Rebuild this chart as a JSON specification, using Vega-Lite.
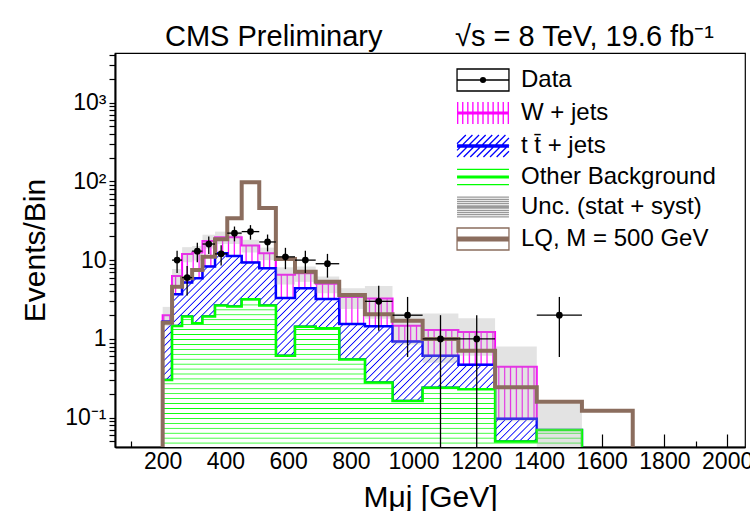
{
"$schema": "https://vega.github.io/schema/vega-lite/v6.json",
"width": 630, "height": 394,
"autosize": {"type": "none"},
"padding": {"left": 115, "top": 53, "right": 5, "bottom": 64},
"background": "white",
"config": {
  "font": "Liberation Sans",
  "view": {"stroke": "#000", "strokeWidth": 1.2},
  "axis": {"grid": false, "domainColor": "#000", "domainWidth": 2, "tickColor": "#000", "tickWidth": 1.2, "labelColor": "#000", "titleColor": "#000", "labelFont": "Liberation Sans", "titleFont": "Liberation Sans", "labelFontSize": 23, "titleFontSize": 30, "titleFontWeight": "normal", "labelOverlap": false, "labelFlush": false, "zindex": 1},
  "axisX": {"title": "M\u03bcj [GeV]", "values": [50,100,150,200,250,300,350,400,450,500,550,600,650,700,750,800,850,900,950,1000,1050,1100,1150,1200,1250,1300,1350,1400,1450,1500,1550,1600,1650,1700,1750,1800,1850,1900,1950,2000,2050], "labelExpr": "datum.value % 200 == 0 ? toString(datum.value) : ''", "tickSize": {"condition": {"test": "datum.value % 200 == 0", "value": -13}, "value": -6}, "labelPadding": 16, "titlePadding": 2}
},
"title": {"text": "CMS Preliminary\u00a0\u00a0\u00a0\u00a0\u00a0\u00a0\u00a0\u00a0\u00a0\u221as = 8 TeV, 19.6 fb\u207b\u00b9", "anchor": "start", "frame": "group", "dx": 50, "dy": 39, "offset": 8, "baseline": "alphabetic", "fontSize": 29, "fontWeight": "normal", "font": "Liberation Sans", "color": "#000"},
"datasets": {
  "edges": [
    {"m":200,"other":0.3,"ttbar_top":1.66,"wjets_top":2.0,"lq":1.6},
    {"m":230,"other":1.46,"ttbar_top":3.7,"wjets_top":6.3,"lq":4.6},
    {"m":262,"other":1.92,"ttbar_top":5.2,"wjets_top":12,"lq":5.9},
    {"m":294,"other":1.58,"ttbar_top":5.9,"wjets_top":12.5,"lq":7.5},
    {"m":327,"other":1.92,"ttbar_top":8.3,"wjets_top":17.5,"lq":11},
    {"m":367,"other":2.65,"ttbar_top":12.2,"wjets_top":19.5,"lq":18.4},
    {"m":406,"other":2.57,"ttbar_top":11.3,"wjets_top":19.5,"lq":34},
    {"m":452,"other":3.19,"ttbar_top":9.3,"wjets_top":15.3,"lq":97},
    {"m":508,"other":2.65,"ttbar_top":7.9,"wjets_top":12.2,"lq":46},
    {"m":561,"other":0.61,"ttbar_top":3.3,"wjets_top":6.5,"lq":10.3},
    {"m":622,"other":1.43,"ttbar_top":4.4,"wjets_top":6.8,"lq":7.1},
    {"m":688,"other":1.37,"ttbar_top":3.2,"wjets_top":5.0,"lq":5.3},
    {"m":763,"other":0.55,"ttbar_top":1.55,"wjets_top":3.4,"lq":3.6},
    {"m":845,"other":0.28,"ttbar_top":1.45,"wjets_top":3.25,"lq":2.05},
    {"m":933,"other":0.163,"ttbar_top":0.93,"wjets_top":1.47,"lq":1.7},
    {"m":1029,"other":0.24,"ttbar_top":0.61,"wjets_top":1.3,"lq":1.0},
    {"m":1143,"other":0.23,"ttbar_top":0.47,"wjets_top":1.22,"lq":0.71},
    {"m":1260,"other":0.05,"ttbar_top":0.097,"wjets_top":0.445,"lq":0.244},
    {"m":1393,"other":0.07,"ttbar_top":0.07,"wjets_top":0.07,"lq":0.16},
    {"m":1537,"other":0.01,"ttbar_top":0.01,"wjets_top":0.01,"lq":0.123},
    {"m":1699,"other":0.01,"ttbar_top":0.01,"wjets_top":0.01,"lq":0.123}
  ],
  "bins": [
    {"lo":200,"hi":230,"mid":215,"n":null,"nlo":null,"nhi":null,"ulo":1.45,"uhi":2.55},
    {"lo":230,"hi":262,"mid":246,"n":10,"nlo":6.84,"nhi":13.16,"ulo":4.9,"uhi":7.7},
    {"lo":262,"hi":294,"mid":278,"n":6,"nlo":3.55,"nhi":8.45,"ulo":9.4,"uhi":14.6},
    {"lo":294,"hi":327,"mid":310.5,"n":13,"nlo":9.39,"nhi":16.61,"ulo":9.9,"uhi":15.1},
    {"lo":327,"hi":367,"mid":347,"n":16,"nlo":12,"nhi":20,"ulo":14.0,"uhi":21.0},
    {"lo":367,"hi":406,"mid":386.5,"n":12,"nlo":8.54,"nhi":15.46,"ulo":16.0,"uhi":23.0},
    {"lo":406,"hi":452,"mid":429,"n":22,"nlo":17.31,"nhi":26.69,"ulo":16.0,"uhi":23.0},
    {"lo":452,"hi":508,"mid":480,"n":23,"nlo":18.2,"nhi":27.8,"ulo":12.5,"uhi":18.1},
    {"lo":508,"hi":561,"mid":534.5,"n":17,"nlo":12.88,"nhi":21.12,"ulo":10.0,"uhi":14.4},
    {"lo":561,"hi":622,"mid":591.5,"n":11,"nlo":7.68,"nhi":14.32,"ulo":4.9,"uhi":8.1},
    {"lo":622,"hi":688,"mid":655,"n":10,"nlo":6.84,"nhi":13.16,"ulo":5.3,"uhi":8.3},
    {"lo":688,"hi":763,"mid":725.5,"n":9,"nlo":6,"nhi":12,"ulo":3.8,"uhi":6.2},
    {"lo":763,"hi":845,"mid":804,"n":null,"nlo":null,"nhi":null,"ulo":2.4,"uhi":4.4},
    {"lo":845,"hi":933,"mid":889,"n":3,"nlo":1.27,"nhi":4.73,"ulo":1.8,"uhi":4.7},
    {"lo":933,"hi":1029,"mid":981,"n":2,"nlo":0.59,"nhi":3.41,"ulo":0.85,"uhi":2.1},
    {"lo":1029,"hi":1143,"mid":1086,"n":1,"nlo":0.01,"nhi":2,"ulo":0.5,"uhi":2.1},
    {"lo":1143,"hi":1260,"mid":1201.5,"n":1,"nlo":0.01,"nhi":2,"ulo":0.61,"uhi":1.83},
    {"lo":1260,"hi":1393,"mid":1326.5,"n":null,"nlo":null,"nhi":null,"ulo":0.09,"uhi":0.8},
    {"lo":1393,"hi":1537,"mid":1465,"n":2,"nlo":0.59,"nhi":3.41,"ulo":0.01,"uhi":0.15}
  ],
  "entries": [
    {"s":"Data"},{"s":"W + jets"},{"s":"t t\u0304 + jets"},{"s":"Other Background"},{"s":"Unc. (stat + syst)"},{"s":"LQ, M = 500 GeV"}
  ]
},
"layer": [
  {
    "data": {"name": "edges"},
    "mark": {"type": "area", "interpolate": "step-after", "clip": true, "stroke": "#f0f", "strokeWidth": 2,
      "fill": {"gradient": "linear", "x1": 0, "y1": 0, "x2": 1, "y2": 0, "stops": [
{"offset":0,"color":"#fff"},{"offset":0.0025,"color":"#f0f"},{"offset":0.005,"color":"#fff"},{"offset":0.0125,"color":"#fff"},{"offset":0.015,"color":"#f0f"},{"offset":0.0175,"color":"#fff"},{"offset":0.025,"color":"#fff"},{"offset":0.0275,"color":"#f0f"},{"offset":0.03,"color":"#fff"},{"offset":0.0375,"color":"#fff"},{"offset":0.04,"color":"#f0f"},{"offset":0.0425,"color":"#fff"},{"offset":0.05,"color":"#fff"},{"offset":0.0525,"color":"#f0f"},{"offset":0.055,"color":"#fff"},{"offset":0.0625,"color":"#fff"},{"offset":0.065,"color":"#f0f"},{"offset":0.0675,"color":"#fff"},{"offset":0.075,"color":"#fff"},{"offset":0.0775,"color":"#f0f"},{"offset":0.08,"color":"#fff"},{"offset":0.0875,"color":"#fff"},{"offset":0.09,"color":"#f0f"},{"offset":0.0925,"color":"#fff"},
{"offset":0.1,"color":"#fff"},{"offset":0.1025,"color":"#f0f"},{"offset":0.105,"color":"#fff"},{"offset":0.1125,"color":"#fff"},{"offset":0.115,"color":"#f0f"},{"offset":0.1175,"color":"#fff"},{"offset":0.125,"color":"#fff"},{"offset":0.1275,"color":"#f0f"},{"offset":0.13,"color":"#fff"},{"offset":0.1375,"color":"#fff"},{"offset":0.14,"color":"#f0f"},{"offset":0.1425,"color":"#fff"},{"offset":0.15,"color":"#fff"},{"offset":0.1525,"color":"#f0f"},{"offset":0.155,"color":"#fff"},{"offset":0.1625,"color":"#fff"},{"offset":0.165,"color":"#f0f"},{"offset":0.1675,"color":"#fff"},{"offset":0.175,"color":"#fff"},{"offset":0.1775,"color":"#f0f"},{"offset":0.18,"color":"#fff"},{"offset":0.1875,"color":"#fff"},{"offset":0.19,"color":"#f0f"},{"offset":0.1925,"color":"#fff"},
{"offset":0.2,"color":"#fff"},{"offset":0.2025,"color":"#f0f"},{"offset":0.205,"color":"#fff"},{"offset":0.2125,"color":"#fff"},{"offset":0.215,"color":"#f0f"},{"offset":0.2175,"color":"#fff"},{"offset":0.225,"color":"#fff"},{"offset":0.2275,"color":"#f0f"},{"offset":0.23,"color":"#fff"},{"offset":0.2375,"color":"#fff"},{"offset":0.24,"color":"#f0f"},{"offset":0.2425,"color":"#fff"},{"offset":0.25,"color":"#fff"},{"offset":0.2525,"color":"#f0f"},{"offset":0.255,"color":"#fff"},{"offset":0.2625,"color":"#fff"},{"offset":0.265,"color":"#f0f"},{"offset":0.2675,"color":"#fff"},{"offset":0.275,"color":"#fff"},{"offset":0.2775,"color":"#f0f"},{"offset":0.28,"color":"#fff"},{"offset":0.2875,"color":"#fff"},{"offset":0.29,"color":"#f0f"},{"offset":0.2925,"color":"#fff"},
{"offset":0.3,"color":"#fff"},{"offset":0.3025,"color":"#f0f"},{"offset":0.305,"color":"#fff"},{"offset":0.3125,"color":"#fff"},{"offset":0.315,"color":"#f0f"},{"offset":0.3175,"color":"#fff"},{"offset":0.325,"color":"#fff"},{"offset":0.3275,"color":"#f0f"},{"offset":0.33,"color":"#fff"},{"offset":0.3375,"color":"#fff"},{"offset":0.34,"color":"#f0f"},{"offset":0.3425,"color":"#fff"},{"offset":0.35,"color":"#fff"},{"offset":0.3525,"color":"#f0f"},{"offset":0.355,"color":"#fff"},{"offset":0.3625,"color":"#fff"},{"offset":0.365,"color":"#f0f"},{"offset":0.3675,"color":"#fff"},{"offset":0.375,"color":"#fff"},{"offset":0.3775,"color":"#f0f"},{"offset":0.38,"color":"#fff"},{"offset":0.3875,"color":"#fff"},{"offset":0.39,"color":"#f0f"},{"offset":0.3925,"color":"#fff"},
{"offset":0.4,"color":"#fff"},{"offset":0.4025,"color":"#f0f"},{"offset":0.405,"color":"#fff"},{"offset":0.4125,"color":"#fff"},{"offset":0.415,"color":"#f0f"},{"offset":0.4175,"color":"#fff"},{"offset":0.425,"color":"#fff"},{"offset":0.4275,"color":"#f0f"},{"offset":0.43,"color":"#fff"},{"offset":0.4375,"color":"#fff"},{"offset":0.44,"color":"#f0f"},{"offset":0.4425,"color":"#fff"},{"offset":0.45,"color":"#fff"},{"offset":0.4525,"color":"#f0f"},{"offset":0.455,"color":"#fff"},{"offset":0.4625,"color":"#fff"},{"offset":0.465,"color":"#f0f"},{"offset":0.4675,"color":"#fff"},{"offset":0.475,"color":"#fff"},{"offset":0.4775,"color":"#f0f"},{"offset":0.48,"color":"#fff"},{"offset":0.4875,"color":"#fff"},{"offset":0.49,"color":"#f0f"},{"offset":0.4925,"color":"#fff"},
{"offset":0.5,"color":"#fff"},{"offset":0.5025,"color":"#f0f"},{"offset":0.505,"color":"#fff"},{"offset":0.5125,"color":"#fff"},{"offset":0.515,"color":"#f0f"},{"offset":0.5175,"color":"#fff"},{"offset":0.525,"color":"#fff"},{"offset":0.5275,"color":"#f0f"},{"offset":0.53,"color":"#fff"},{"offset":0.5375,"color":"#fff"},{"offset":0.54,"color":"#f0f"},{"offset":0.5425,"color":"#fff"},{"offset":0.55,"color":"#fff"},{"offset":0.5525,"color":"#f0f"},{"offset":0.555,"color":"#fff"},{"offset":0.5625,"color":"#fff"},{"offset":0.565,"color":"#f0f"},{"offset":0.5675,"color":"#fff"},{"offset":0.575,"color":"#fff"},{"offset":0.5775,"color":"#f0f"},{"offset":0.58,"color":"#fff"},{"offset":0.5875,"color":"#fff"},{"offset":0.59,"color":"#f0f"},{"offset":0.5925,"color":"#fff"},
{"offset":0.6,"color":"#fff"},{"offset":0.6025,"color":"#f0f"},{"offset":0.605,"color":"#fff"},{"offset":0.6125,"color":"#fff"},{"offset":0.615,"color":"#f0f"},{"offset":0.6175,"color":"#fff"},{"offset":0.625,"color":"#fff"},{"offset":0.6275,"color":"#f0f"},{"offset":0.63,"color":"#fff"},{"offset":0.6375,"color":"#fff"},{"offset":0.64,"color":"#f0f"},{"offset":0.6425,"color":"#fff"},{"offset":0.65,"color":"#fff"},{"offset":0.6525,"color":"#f0f"},{"offset":0.655,"color":"#fff"},{"offset":0.6625,"color":"#fff"},{"offset":0.665,"color":"#f0f"},{"offset":0.6675,"color":"#fff"},{"offset":0.675,"color":"#fff"},{"offset":0.6775,"color":"#f0f"},{"offset":0.68,"color":"#fff"},{"offset":0.6875,"color":"#fff"},{"offset":0.69,"color":"#f0f"},{"offset":0.6925,"color":"#fff"},
{"offset":0.7,"color":"#fff"},{"offset":0.7025,"color":"#f0f"},{"offset":0.705,"color":"#fff"},{"offset":0.7125,"color":"#fff"},{"offset":0.715,"color":"#f0f"},{"offset":0.7175,"color":"#fff"},{"offset":0.725,"color":"#fff"},{"offset":0.7275,"color":"#f0f"},{"offset":0.73,"color":"#fff"},{"offset":0.7375,"color":"#fff"},{"offset":0.74,"color":"#f0f"},{"offset":0.7425,"color":"#fff"},{"offset":0.75,"color":"#fff"},{"offset":0.7525,"color":"#f0f"},{"offset":0.755,"color":"#fff"},{"offset":0.7625,"color":"#fff"},{"offset":0.765,"color":"#f0f"},{"offset":0.7675,"color":"#fff"},{"offset":0.775,"color":"#fff"},{"offset":0.7775,"color":"#f0f"},{"offset":0.78,"color":"#fff"},{"offset":0.7875,"color":"#fff"},{"offset":0.79,"color":"#f0f"},{"offset":0.7925,"color":"#fff"},
{"offset":0.8,"color":"#fff"},{"offset":0.8025,"color":"#f0f"},{"offset":0.805,"color":"#fff"},{"offset":0.8125,"color":"#fff"},{"offset":0.815,"color":"#f0f"},{"offset":0.8175,"color":"#fff"},{"offset":0.825,"color":"#fff"},{"offset":0.8275,"color":"#f0f"},{"offset":0.83,"color":"#fff"},{"offset":0.8375,"color":"#fff"},{"offset":0.84,"color":"#f0f"},{"offset":0.8425,"color":"#fff"},{"offset":0.85,"color":"#fff"},{"offset":0.8525,"color":"#f0f"},{"offset":0.855,"color":"#fff"},{"offset":0.8625,"color":"#fff"},{"offset":0.865,"color":"#f0f"},{"offset":0.8675,"color":"#fff"},{"offset":0.875,"color":"#fff"},{"offset":0.8775,"color":"#f0f"},{"offset":0.88,"color":"#fff"},{"offset":0.8875,"color":"#fff"},{"offset":0.89,"color":"#f0f"},{"offset":0.8925,"color":"#fff"},
{"offset":0.9,"color":"#fff"},{"offset":0.9025,"color":"#f0f"},{"offset":0.905,"color":"#fff"},{"offset":0.9125,"color":"#fff"},{"offset":0.915,"color":"#f0f"},{"offset":0.9175,"color":"#fff"},{"offset":0.925,"color":"#fff"},{"offset":0.9275,"color":"#f0f"},{"offset":0.93,"color":"#fff"},{"offset":0.9375,"color":"#fff"},{"offset":0.94,"color":"#f0f"},{"offset":0.9425,"color":"#fff"},{"offset":0.95,"color":"#fff"},{"offset":0.9525,"color":"#f0f"},{"offset":0.955,"color":"#fff"},{"offset":0.9625,"color":"#fff"},{"offset":0.965,"color":"#f0f"},{"offset":0.9675,"color":"#fff"},{"offset":0.975,"color":"#fff"},{"offset":0.9775,"color":"#f0f"},{"offset":0.98,"color":"#fff"},{"offset":0.9875,"color":"#fff"},{"offset":0.99,"color":"#f0f"},{"offset":0.9925,"color":"#fff"}
      ]}},
    "encoding": {
      "x": {"field": "m", "type": "quantitative", "title": "M\u03bcj [GeV]", "scale": {"domain": [48, 2057], "nice": false, "zero": false}},
      "y": {"field": "wjets_top", "type": "quantitative", "scale": {"type": "log", "domain": [0.0425, 4250], "nice": false},
        "axis": {"title": "Events/Bin", "values": [0.05,0.06,0.07,0.08,0.09,0.1,0.2,0.3,0.4,0.5,0.6,0.7,0.8,0.9,1,2,3,4,5,6,7,8,9,10,20,30,40,50,60,70,80,90,100,200,300,400,500,600,700,800,900,1000,2000,3000,4000],
          "labelExpr": "datum.value == 0.1 ? '10\u207b\u00b9' : datum.value == 1 ? '1' : datum.value == 10 ? '10' : datum.value == 100 ? '10\u00b2' : datum.value == 1000 ? '10\u00b3' : ''",
          "tickSize": 6, "labelPadding": 3, "titlePadding": 14,
          "encode": {"ticks": {"update": {"x2": {"signal": "indexof([0.1,1,10,100,1000], datum.value) >= 0 ? 17 : 9"}}}}}},
      "y2": {"field": "ttbar_top"}
    }
  },
  {
    "data": {"name": "edges"},
    "mark": {"type": "area", "interpolate": "step-after", "clip": true, "stroke": "#00f", "strokeWidth": 2.5,
      "fill": {"gradient": "linear", "x1": 0, "y1": 0, "x2": 1.2, "y2": 0.621, "stops": [
{"offset":0,"color":"#fff"},{"offset":0.0017,"color":"#00f"},{"offset":0.0034,"color":"#fff"},{"offset":0.01,"color":"#fff"},{"offset":0.0117,"color":"#00f"},{"offset":0.0134,"color":"#fff"},{"offset":0.02,"color":"#fff"},{"offset":0.0217,"color":"#00f"},{"offset":0.0234,"color":"#fff"},{"offset":0.03,"color":"#fff"},{"offset":0.0317,"color":"#00f"},{"offset":0.0334,"color":"#fff"},{"offset":0.04,"color":"#fff"},{"offset":0.0417,"color":"#00f"},{"offset":0.0434,"color":"#fff"},{"offset":0.05,"color":"#fff"},{"offset":0.0517,"color":"#00f"},{"offset":0.0534,"color":"#fff"},{"offset":0.06,"color":"#fff"},{"offset":0.0617,"color":"#00f"},{"offset":0.0634,"color":"#fff"},{"offset":0.07,"color":"#fff"},{"offset":0.0717,"color":"#00f"},{"offset":0.0734,"color":"#fff"},{"offset":0.08,"color":"#fff"},{"offset":0.0817,"color":"#00f"},{"offset":0.0834,"color":"#fff"},{"offset":0.09,"color":"#fff"},{"offset":0.0917,"color":"#00f"},{"offset":0.0934,"color":"#fff"},
{"offset":0.1,"color":"#fff"},{"offset":0.1017,"color":"#00f"},{"offset":0.1034,"color":"#fff"},{"offset":0.11,"color":"#fff"},{"offset":0.1117,"color":"#00f"},{"offset":0.1134,"color":"#fff"},{"offset":0.12,"color":"#fff"},{"offset":0.1217,"color":"#00f"},{"offset":0.1234,"color":"#fff"},{"offset":0.13,"color":"#fff"},{"offset":0.1317,"color":"#00f"},{"offset":0.1334,"color":"#fff"},{"offset":0.14,"color":"#fff"},{"offset":0.1417,"color":"#00f"},{"offset":0.1434,"color":"#fff"},{"offset":0.15,"color":"#fff"},{"offset":0.1517,"color":"#00f"},{"offset":0.1534,"color":"#fff"},{"offset":0.16,"color":"#fff"},{"offset":0.1617,"color":"#00f"},{"offset":0.1634,"color":"#fff"},{"offset":0.17,"color":"#fff"},{"offset":0.1717,"color":"#00f"},{"offset":0.1734,"color":"#fff"},{"offset":0.18,"color":"#fff"},{"offset":0.1817,"color":"#00f"},{"offset":0.1834,"color":"#fff"},{"offset":0.19,"color":"#fff"},{"offset":0.1917,"color":"#00f"},{"offset":0.1934,"color":"#fff"},
{"offset":0.2,"color":"#fff"},{"offset":0.2017,"color":"#00f"},{"offset":0.2034,"color":"#fff"},{"offset":0.21,"color":"#fff"},{"offset":0.2117,"color":"#00f"},{"offset":0.2134,"color":"#fff"},{"offset":0.22,"color":"#fff"},{"offset":0.2217,"color":"#00f"},{"offset":0.2234,"color":"#fff"},{"offset":0.23,"color":"#fff"},{"offset":0.2317,"color":"#00f"},{"offset":0.2334,"color":"#fff"},{"offset":0.24,"color":"#fff"},{"offset":0.2417,"color":"#00f"},{"offset":0.2434,"color":"#fff"},{"offset":0.25,"color":"#fff"},{"offset":0.2517,"color":"#00f"},{"offset":0.2534,"color":"#fff"},{"offset":0.26,"color":"#fff"},{"offset":0.2617,"color":"#00f"},{"offset":0.2634,"color":"#fff"},{"offset":0.27,"color":"#fff"},{"offset":0.2717,"color":"#00f"},{"offset":0.2734,"color":"#fff"},{"offset":0.28,"color":"#fff"},{"offset":0.2817,"color":"#00f"},{"offset":0.2834,"color":"#fff"},{"offset":0.29,"color":"#fff"},{"offset":0.2917,"color":"#00f"},{"offset":0.2934,"color":"#fff"},
{"offset":0.3,"color":"#fff"},{"offset":0.3017,"color":"#00f"},{"offset":0.3034,"color":"#fff"},{"offset":0.31,"color":"#fff"},{"offset":0.3117,"color":"#00f"},{"offset":0.3134,"color":"#fff"},{"offset":0.32,"color":"#fff"},{"offset":0.3217,"color":"#00f"},{"offset":0.3234,"color":"#fff"},{"offset":0.33,"color":"#fff"},{"offset":0.3317,"color":"#00f"},{"offset":0.3334,"color":"#fff"},{"offset":0.34,"color":"#fff"},{"offset":0.3417,"color":"#00f"},{"offset":0.3434,"color":"#fff"},{"offset":0.35,"color":"#fff"},{"offset":0.3517,"color":"#00f"},{"offset":0.3534,"color":"#fff"},{"offset":0.36,"color":"#fff"},{"offset":0.3617,"color":"#00f"},{"offset":0.3634,"color":"#fff"},{"offset":0.37,"color":"#fff"},{"offset":0.3717,"color":"#00f"},{"offset":0.3734,"color":"#fff"},{"offset":0.38,"color":"#fff"},{"offset":0.3817,"color":"#00f"},{"offset":0.3834,"color":"#fff"},{"offset":0.39,"color":"#fff"},{"offset":0.3917,"color":"#00f"},{"offset":0.3934,"color":"#fff"},
{"offset":0.4,"color":"#fff"},{"offset":0.4017,"color":"#00f"},{"offset":0.4034,"color":"#fff"},{"offset":0.41,"color":"#fff"},{"offset":0.4117,"color":"#00f"},{"offset":0.4134,"color":"#fff"},{"offset":0.42,"color":"#fff"},{"offset":0.4217,"color":"#00f"},{"offset":0.4234,"color":"#fff"},{"offset":0.43,"color":"#fff"},{"offset":0.4317,"color":"#00f"},{"offset":0.4334,"color":"#fff"},{"offset":0.44,"color":"#fff"},{"offset":0.4417,"color":"#00f"},{"offset":0.4434,"color":"#fff"},{"offset":0.45,"color":"#fff"},{"offset":0.4517,"color":"#00f"},{"offset":0.4534,"color":"#fff"},{"offset":0.46,"color":"#fff"},{"offset":0.4617,"color":"#00f"},{"offset":0.4634,"color":"#fff"},{"offset":0.47,"color":"#fff"},{"offset":0.4717,"color":"#00f"},{"offset":0.4734,"color":"#fff"},{"offset":0.48,"color":"#fff"},{"offset":0.4817,"color":"#00f"},{"offset":0.4834,"color":"#fff"},{"offset":0.49,"color":"#fff"},{"offset":0.4917,"color":"#00f"},{"offset":0.4934,"color":"#fff"},
{"offset":0.5,"color":"#fff"},{"offset":0.5017,"color":"#00f"},{"offset":0.5034,"color":"#fff"},{"offset":0.51,"color":"#fff"},{"offset":0.5117,"color":"#00f"},{"offset":0.5134,"color":"#fff"},{"offset":0.52,"color":"#fff"},{"offset":0.5217,"color":"#00f"},{"offset":0.5234,"color":"#fff"},{"offset":0.53,"color":"#fff"},{"offset":0.5317,"color":"#00f"},{"offset":0.5334,"color":"#fff"},{"offset":0.54,"color":"#fff"},{"offset":0.5417,"color":"#00f"},{"offset":0.5434,"color":"#fff"},{"offset":0.55,"color":"#fff"},{"offset":0.5517,"color":"#00f"},{"offset":0.5534,"color":"#fff"},{"offset":0.56,"color":"#fff"},{"offset":0.5617,"color":"#00f"},{"offset":0.5634,"color":"#fff"},{"offset":0.57,"color":"#fff"},{"offset":0.5717,"color":"#00f"},{"offset":0.5734,"color":"#fff"},{"offset":0.58,"color":"#fff"},{"offset":0.5817,"color":"#00f"},{"offset":0.5834,"color":"#fff"},{"offset":0.59,"color":"#fff"},{"offset":0.5917,"color":"#00f"},{"offset":0.5934,"color":"#fff"},
{"offset":0.6,"color":"#fff"},{"offset":0.6017,"color":"#00f"},{"offset":0.6034,"color":"#fff"},{"offset":0.61,"color":"#fff"},{"offset":0.6117,"color":"#00f"},{"offset":0.6134,"color":"#fff"},{"offset":0.62,"color":"#fff"},{"offset":0.6217,"color":"#00f"},{"offset":0.6234,"color":"#fff"},{"offset":0.63,"color":"#fff"},{"offset":0.6317,"color":"#00f"},{"offset":0.6334,"color":"#fff"},{"offset":0.64,"color":"#fff"},{"offset":0.6417,"color":"#00f"},{"offset":0.6434,"color":"#fff"},{"offset":0.65,"color":"#fff"},{"offset":0.6517,"color":"#00f"},{"offset":0.6534,"color":"#fff"},{"offset":0.66,"color":"#fff"},{"offset":0.6617,"color":"#00f"},{"offset":0.6634,"color":"#fff"},{"offset":0.67,"color":"#fff"},{"offset":0.6717,"color":"#00f"},{"offset":0.6734,"color":"#fff"},{"offset":0.68,"color":"#fff"},{"offset":0.6817,"color":"#00f"},{"offset":0.6834,"color":"#fff"},{"offset":0.69,"color":"#fff"},{"offset":0.6917,"color":"#00f"},{"offset":0.6934,"color":"#fff"},
{"offset":0.7,"color":"#fff"},{"offset":0.7017,"color":"#00f"},{"offset":0.7034,"color":"#fff"},{"offset":0.71,"color":"#fff"},{"offset":0.7117,"color":"#00f"},{"offset":0.7134,"color":"#fff"},{"offset":0.72,"color":"#fff"},{"offset":0.7217,"color":"#00f"},{"offset":0.7234,"color":"#fff"},{"offset":0.73,"color":"#fff"},{"offset":0.7317,"color":"#00f"},{"offset":0.7334,"color":"#fff"},{"offset":0.74,"color":"#fff"},{"offset":0.7417,"color":"#00f"},{"offset":0.7434,"color":"#fff"},{"offset":0.75,"color":"#fff"},{"offset":0.7517,"color":"#00f"},{"offset":0.7534,"color":"#fff"},{"offset":0.76,"color":"#fff"},{"offset":0.7617,"color":"#00f"},{"offset":0.7634,"color":"#fff"},{"offset":0.77,"color":"#fff"},{"offset":0.7717,"color":"#00f"},{"offset":0.7734,"color":"#fff"},{"offset":0.78,"color":"#fff"},{"offset":0.7817,"color":"#00f"},{"offset":0.7834,"color":"#fff"},{"offset":0.79,"color":"#fff"},{"offset":0.7917,"color":"#00f"},{"offset":0.7934,"color":"#fff"},
{"offset":0.8,"color":"#fff"},{"offset":0.8017,"color":"#00f"},{"offset":0.8034,"color":"#fff"},{"offset":0.81,"color":"#fff"},{"offset":0.8117,"color":"#00f"},{"offset":0.8134,"color":"#fff"},{"offset":0.82,"color":"#fff"},{"offset":0.8217,"color":"#00f"},{"offset":0.8234,"color":"#fff"},{"offset":0.83,"color":"#fff"},{"offset":0.8317,"color":"#00f"},{"offset":0.8334,"color":"#fff"},{"offset":0.84,"color":"#fff"},{"offset":0.8417,"color":"#00f"},{"offset":0.8434,"color":"#fff"},{"offset":0.85,"color":"#fff"},{"offset":0.8517,"color":"#00f"},{"offset":0.8534,"color":"#fff"},{"offset":0.86,"color":"#fff"},{"offset":0.8617,"color":"#00f"},{"offset":0.8634,"color":"#fff"},{"offset":0.87,"color":"#fff"},{"offset":0.8717,"color":"#00f"},{"offset":0.8734,"color":"#fff"},{"offset":0.88,"color":"#fff"},{"offset":0.8817,"color":"#00f"},{"offset":0.8834,"color":"#fff"},{"offset":0.89,"color":"#fff"},{"offset":0.8917,"color":"#00f"},{"offset":0.8934,"color":"#fff"},
{"offset":0.9,"color":"#fff"},{"offset":0.9017,"color":"#00f"},{"offset":0.9034,"color":"#fff"},{"offset":0.91,"color":"#fff"},{"offset":0.9117,"color":"#00f"},{"offset":0.9134,"color":"#fff"},{"offset":0.92,"color":"#fff"},{"offset":0.9217,"color":"#00f"},{"offset":0.9234,"color":"#fff"},{"offset":0.93,"color":"#fff"},{"offset":0.9317,"color":"#00f"},{"offset":0.9334,"color":"#fff"},{"offset":0.94,"color":"#fff"},{"offset":0.9417,"color":"#00f"},{"offset":0.9434,"color":"#fff"},{"offset":0.95,"color":"#fff"},{"offset":0.9517,"color":"#00f"},{"offset":0.9534,"color":"#fff"},{"offset":0.96,"color":"#fff"},{"offset":0.9617,"color":"#00f"},{"offset":0.9634,"color":"#fff"},{"offset":0.97,"color":"#fff"},{"offset":0.9717,"color":"#00f"},{"offset":0.9734,"color":"#fff"},{"offset":0.98,"color":"#fff"},{"offset":0.9817,"color":"#00f"},{"offset":0.9834,"color":"#fff"},{"offset":0.99,"color":"#fff"},{"offset":0.9917,"color":"#00f"},{"offset":0.9934,"color":"#fff"}
      ]}},
    "encoding": {
      "x": {"field": "m", "type": "quantitative", "title": "M\u03bcj [GeV]"},
      "y": {"field": "ttbar_top", "type": "quantitative"},
      "y2": {"field": "other"}
    }
  },
  {
    "data": {"name": "edges"},
    "mark": {"type": "area", "interpolate": "step-after", "clip": true, "stroke": "#0f0", "strokeWidth": 2.5,
      "fill": {"gradient": "linear", "x1": 0, "y1": 0, "x2": 0, "y2": 1, "stops": [
{"offset":0,"color":"#fff"},{"offset":0.004,"color":"#0f0"},{"offset":0.008,"color":"#fff"},{"offset":0.025,"color":"#fff"},{"offset":0.029,"color":"#0f0"},{"offset":0.033,"color":"#fff"},{"offset":0.05,"color":"#fff"},{"offset":0.054,"color":"#0f0"},{"offset":0.058,"color":"#fff"},{"offset":0.075,"color":"#fff"},{"offset":0.079,"color":"#0f0"},{"offset":0.083,"color":"#fff"},
{"offset":0.1,"color":"#fff"},{"offset":0.104,"color":"#0f0"},{"offset":0.108,"color":"#fff"},{"offset":0.125,"color":"#fff"},{"offset":0.129,"color":"#0f0"},{"offset":0.133,"color":"#fff"},{"offset":0.15,"color":"#fff"},{"offset":0.154,"color":"#0f0"},{"offset":0.158,"color":"#fff"},{"offset":0.175,"color":"#fff"},{"offset":0.179,"color":"#0f0"},{"offset":0.183,"color":"#fff"},
{"offset":0.2,"color":"#fff"},{"offset":0.204,"color":"#0f0"},{"offset":0.208,"color":"#fff"},{"offset":0.225,"color":"#fff"},{"offset":0.229,"color":"#0f0"},{"offset":0.233,"color":"#fff"},{"offset":0.25,"color":"#fff"},{"offset":0.254,"color":"#0f0"},{"offset":0.258,"color":"#fff"},{"offset":0.275,"color":"#fff"},{"offset":0.279,"color":"#0f0"},{"offset":0.283,"color":"#fff"},
{"offset":0.3,"color":"#fff"},{"offset":0.304,"color":"#0f0"},{"offset":0.308,"color":"#fff"},{"offset":0.325,"color":"#fff"},{"offset":0.329,"color":"#0f0"},{"offset":0.333,"color":"#fff"},{"offset":0.35,"color":"#fff"},{"offset":0.354,"color":"#0f0"},{"offset":0.358,"color":"#fff"},{"offset":0.375,"color":"#fff"},{"offset":0.379,"color":"#0f0"},{"offset":0.383,"color":"#fff"},
{"offset":0.4,"color":"#fff"},{"offset":0.404,"color":"#0f0"},{"offset":0.408,"color":"#fff"},{"offset":0.425,"color":"#fff"},{"offset":0.429,"color":"#0f0"},{"offset":0.433,"color":"#fff"},{"offset":0.45,"color":"#fff"},{"offset":0.454,"color":"#0f0"},{"offset":0.458,"color":"#fff"},{"offset":0.475,"color":"#fff"},{"offset":0.479,"color":"#0f0"},{"offset":0.483,"color":"#fff"},
{"offset":0.5,"color":"#fff"},{"offset":0.504,"color":"#0f0"},{"offset":0.508,"color":"#fff"},{"offset":0.525,"color":"#fff"},{"offset":0.529,"color":"#0f0"},{"offset":0.533,"color":"#fff"},{"offset":0.55,"color":"#fff"},{"offset":0.554,"color":"#0f0"},{"offset":0.558,"color":"#fff"},{"offset":0.575,"color":"#fff"},{"offset":0.579,"color":"#0f0"},{"offset":0.583,"color":"#fff"},
{"offset":0.6,"color":"#fff"},{"offset":0.604,"color":"#0f0"},{"offset":0.608,"color":"#fff"},{"offset":0.625,"color":"#fff"},{"offset":0.629,"color":"#0f0"},{"offset":0.633,"color":"#fff"},{"offset":0.65,"color":"#fff"},{"offset":0.654,"color":"#0f0"},{"offset":0.658,"color":"#fff"},{"offset":0.675,"color":"#fff"},{"offset":0.679,"color":"#0f0"},{"offset":0.683,"color":"#fff"},
{"offset":0.7,"color":"#fff"},{"offset":0.704,"color":"#0f0"},{"offset":0.708,"color":"#fff"},{"offset":0.725,"color":"#fff"},{"offset":0.729,"color":"#0f0"},{"offset":0.733,"color":"#fff"},{"offset":0.75,"color":"#fff"},{"offset":0.754,"color":"#0f0"},{"offset":0.758,"color":"#fff"},{"offset":0.775,"color":"#fff"},{"offset":0.779,"color":"#0f0"},{"offset":0.783,"color":"#fff"},
{"offset":0.8,"color":"#fff"},{"offset":0.804,"color":"#0f0"},{"offset":0.808,"color":"#fff"},{"offset":0.825,"color":"#fff"},{"offset":0.829,"color":"#0f0"},{"offset":0.833,"color":"#fff"},{"offset":0.85,"color":"#fff"},{"offset":0.854,"color":"#0f0"},{"offset":0.858,"color":"#fff"},{"offset":0.875,"color":"#fff"},{"offset":0.879,"color":"#0f0"},{"offset":0.883,"color":"#fff"},
{"offset":0.9,"color":"#fff"},{"offset":0.904,"color":"#0f0"},{"offset":0.908,"color":"#fff"},{"offset":0.925,"color":"#fff"},{"offset":0.929,"color":"#0f0"},{"offset":0.933,"color":"#fff"},{"offset":0.95,"color":"#fff"},{"offset":0.954,"color":"#0f0"},{"offset":0.958,"color":"#fff"},{"offset":0.975,"color":"#fff"},{"offset":0.979,"color":"#0f0"},{"offset":0.983,"color":"#fff"}
      ]}},
    "encoding": {
      "x": {"field": "m", "type": "quantitative", "title": "M\u03bcj [GeV]"},
      "y": {"field": "other", "type": "quantitative"},
      "y2": {"datum": 0.01}
    }
  },
  {
    "data": {"name": "bins"},
    "mark": {"type": "rect", "clip": true, "fill": "#a8a8a8", "opacity": 0.32},
    "encoding": {
      "x": {"field": "lo", "type": "quantitative", "title": "M\u03bcj [GeV]"},
      "x2": {"field": "hi"},
      "y": {"field": "ulo", "type": "quantitative"},
      "y2": {"field": "uhi"}
    }
  },
  {
    "data": {"name": "edges"},
    "mark": {"type": "area", "interpolate": "step-after", "clip": true, "fillOpacity": 0, "stroke": "#8b6d5e", "strokeWidth": 4},
    "encoding": {
      "x": {"field": "m", "type": "quantitative", "title": "M\u03bcj [GeV]"},
      "y": {"field": "lq", "type": "quantitative"},
      "y2": {"datum": 0.01}
    }
  },
  {
    "data": {"name": "bins"},
    "transform": [{"filter": {"field": "n", "valid": true}}],
    "mark": {"type": "rule", "clip": true, "color": "#000", "strokeWidth": 1.3},
    "encoding": {
      "x": {"field": "lo", "type": "quantitative", "title": "M\u03bcj [GeV]"},
      "x2": {"field": "hi"},
      "y": {"field": "n", "type": "quantitative"}
    }
  },
  {
    "data": {"name": "bins"},
    "transform": [{"filter": {"field": "n", "valid": true}}],
    "mark": {"type": "rule", "clip": true, "color": "#000", "strokeWidth": 1.3},
    "encoding": {
      "x": {"field": "mid", "type": "quantitative", "title": "M\u03bcj [GeV]"},
      "y": {"field": "nlo", "type": "quantitative"},
      "y2": {"field": "nhi"}
    }
  },
  {
    "data": {"name": "bins"},
    "transform": [{"filter": {"field": "n", "valid": true}}],
    "mark": {"type": "point", "filled": true, "clip": true, "color": "#000", "size": 45, "opacity": 1},
    "encoding": {
      "x": {"field": "mid", "type": "quantitative", "title": "M\u03bcj [GeV]"},
      "y": {"field": "n", "type": "quantitative"}
    }
  },
  {
    "data": {"name": "entries"},
    "mark": {"type": "point", "filled": false, "opacity": 0, "strokeWidth": 1.3},
    "encoding": {
      "stroke": {"field": "s", "type": "nominal",
        "scale": {"domain": ["Data","W + jets","t t\u0304 + jets","Other Background","Unc. (stat + syst)","LQ, M = 500 GeV"], "range": ["#000","#f0f","#00f","#0f0","#999","#8b6d5e"]},
        "legend": {"title": null, "orient": "none", "legendX": 356, "legendY": 15, "labelFontSize": 24, "labelFont": "Liberation Sans", "labelColor": "#000", "symbolSize": 484, "symbolStrokeWidth": 1.3, "symbolFillColor": "transparent", "symbolOpacity": 1, "labelOffset": 26, "rowPadding": 5, "padding": 0, "labelLimit": 400}},
      "shape": {"field": "s", "type": "nominal",
        "scale": {"domain": ["Data","W + jets","t t\u0304 + jets","Other Background","Unc. (stat + syst)","LQ, M = 500 GeV"], "range": [
          "M-2.36,-1H2.36V1H-2.36ZM-2.36,0H2.36M-0.22,0A0.22,0.22 0 1,0 0.22,0A0.22,0.22 0 1,0 -0.22,0M-0.1,0A0.1,0.1 0 1,0 0.1,0A0.1,0.1 0 1,0 -0.1,0",
          "M-2.3,-1V1M-1.84,-1V1M-1.38,-1V1M-0.92,-1V1M-0.46,-1V1M0,-1V1M0.46,-1V1M0.92,-1V1M1.38,-1V1M1.84,-1V1M2.3,-1V1M-2.36,-0.07H2.36M-2.36,0.07H2.36",
          "M-2.36,1L-0.36,-1M-1.76,1L0.24,-1M-1.16,1L0.84,-1M-0.56,1L1.44,-1M0.04,1L2.04,-1M0.64,1L2.36,-0.72M1.24,1L2.36,-0.12M1.84,1L2.36,0.48M-2.36,0.4L-0.96,-1M-2.36,-0.2L-1.56,-1M-2.36,-0.1H2.36M-2.36,0H2.36M-2.36,0.1H2.36",
          "M-2.36,-0.7H2.36M-2.36,-0.08H2.36M-2.36,0H2.36M-2.36,0.08H2.36M-2.36,0.7H2.36",
          "M-2.36,-0.9H2.36M-2.36,-0.7H2.36M-2.36,-0.5H2.36M-2.36,-0.3H2.36M-2.36,-0.1H2.36M-2.36,0H2.36M-2.36,0.1H2.36M-2.36,0.3H2.36M-2.36,0.5H2.36M-2.36,0.7H2.36M-2.36,0.9H2.36",
          "M-2.36,-1H2.36V1H-2.36ZM-2.36,-0.16H2.36M-2.36,-0.08H2.36M-2.36,0H2.36M-2.36,0.08H2.36M-2.36,0.16H2.36"
        ]}}
    }
  }
]
}
